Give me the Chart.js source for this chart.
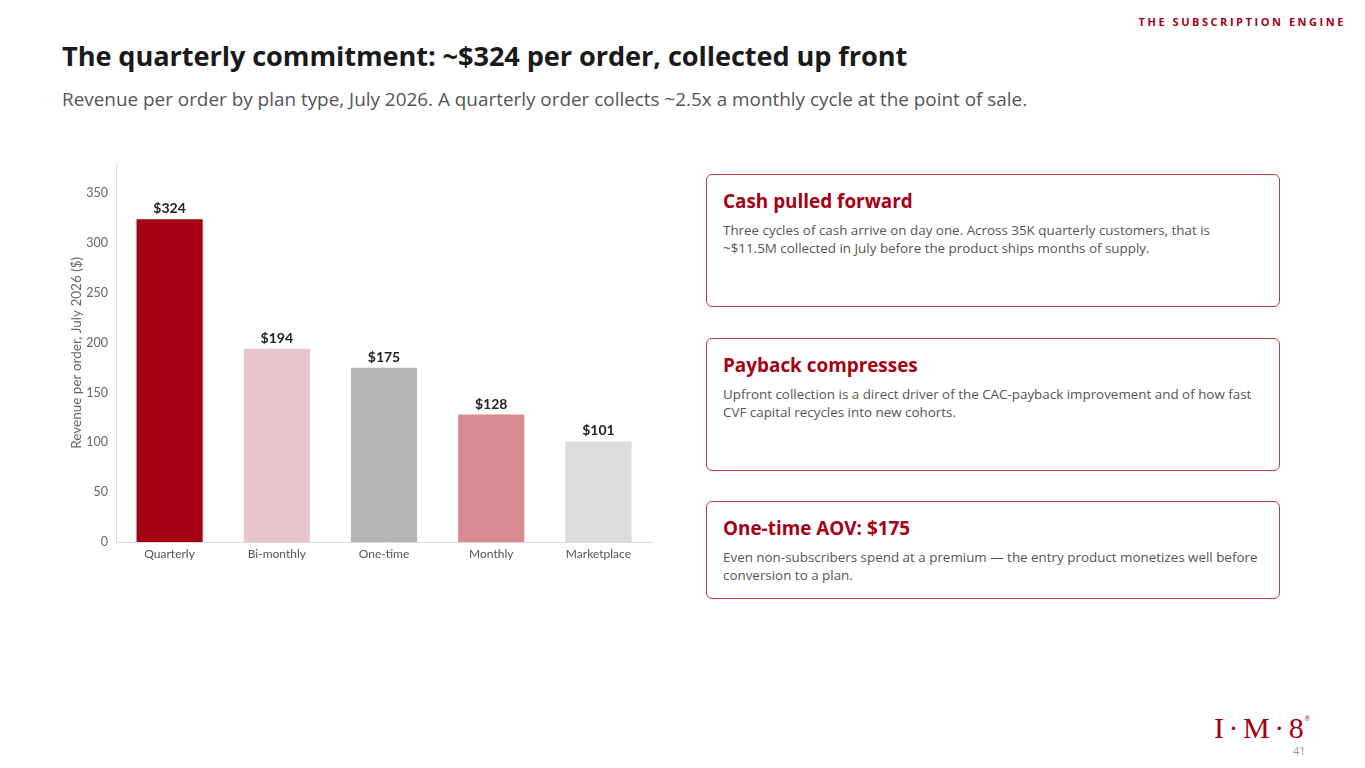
<!DOCTYPE html>
<html>
<head>
<meta charset="utf-8">
<script src="https://cdn.jsdelivr.net/npm/chart.js@4.4.1/dist/chart.umd.min.js"></script>
<style>
  html, body { margin:0; padding:0; background:#fff; }
  body { width:1365px; height:768px; position:relative; overflow:hidden; font-family:"Open Sans", "Noto Sans", sans-serif; }
  .hdr { position:absolute; right:19px; top:14px; font-size:11px; font-weight:700; letter-spacing:2.55px; color:#A50014; }
  .title { position:absolute; left:62px; top:37px; font-size:27.2px; font-weight:700; color:#1a1a1a; white-space:nowrap; letter-spacing:-0.1px; }
  .sub { position:absolute; left:62px; top:86px; font-size:18.9px; color:#555; white-space:nowrap; }
  #wrap { position:absolute; left:60px; top:148px; width:600px; height:417px; }
  .card { position:absolute; left:706px; width:574px; border:1px solid #BA3D4C; border-radius:6px; box-sizing:border-box; padding:14px 16px; }
  .card h3 { margin:0; font-size:18.9px; font-weight:700; color:#A50014; line-height:24px; }
  .card p { margin:8px 0 0 0; font-size:13.4px; color:#555; line-height:18px; }
  .logo { position:absolute; left:1214px; top:711px; font-family:"Liberation Serif", "DejaVu Serif", serif; font-size:30px; color:#A50014; letter-spacing:4.5px; white-space:nowrap; }
  .logo sup { font-size:8px; vertical-align:top; position:relative; top:3px; left:-4px; }
  .pg { position:absolute; left:1293px; top:743px; font-size:11px; color:#999; }
</style>
</head>
<body>
<div class="hdr">THE SUBSCRIPTION ENGINE</div>
<div class="title">The quarterly commitment: ~$324 per order, collected up front</div>
<div class="sub">Revenue per order by plan type, July 2026. A quarterly order collects ~2.5x a monthly cycle at the point of sale.</div>
<div id="wrap"><canvas id="c"></canvas></div>

<div class="card" style="top:174px;height:133px;">
  <h3>Cash pulled forward</h3>
  <p>Three cycles of cash arrive on day one. Across 35K quarterly customers, that is<br>~$11.5M collected in July before the product ships months of supply.</p>
</div>
<div class="card" style="top:338px;height:133px;">
  <h3>Payback compresses</h3>
  <p>Upfront collection is a direct driver of the CAC-payback improvement and of how fast<br>CVF capital recycles into new cohorts.</p>
</div>
<div class="card" style="top:501px;height:98px;">
  <h3>One-time AOV: $175</h3>
  <p>Even non-subscribers spend at a premium — the entry product monetizes well before<br>conversion to a plan.</p>
</div>

<div class="logo">I·M·8<sup>®</sup></div>
<div class="pg">41</div>

<script>
const categories = ["Quarterly", "Bi-monthly", "One-time", "Monthly", "Marketplace"];
const revenuePerOrder = [324, 194, 175, 128, 101];
const valueLabels = ["$324", "$194", "$175", "$128", "$101"];
const barColors = ["#A50014", "#E8C7CC", "#B4B4B4", "#D98991", "#DCDCDC"];
const yTicks = [0, 50, 100, 150, 200, 250, 300, 350];
const yAxisTitle = "Revenue per order, July 2026 ($)";

const valueLabelPlugin = {
  id: 'valueLabels',
  afterDatasetsDraw(chart) {
    const ctx = chart.ctx;
    const meta = chart.getDatasetMeta(0);
    ctx.save();
    ctx.font = "bold 14px Lato";
    ctx.fillStyle = "#222";
    ctx.textAlign = "center";
    ctx.textBaseline = "alphabetic";
    meta.data.forEach((bar, i) => {
      ctx.fillText(valueLabels[i], bar.x, bar.y - 6);
    });
    ctx.restore();
  }
};

new Chart(document.getElementById('c'), {
  type: 'bar',
  data: {
    labels: categories,
    datasets: [{
      data: revenuePerOrder,
      backgroundColor: barColors,
      borderWidth: 0,
      categoryPercentage: 1.0,
      barPercentage: 0.617
    }]
  },
  options: {
    responsive: true,
    maintainAspectRatio: false,
    animation: false,
    layout: { padding: { top: 8, right: 8, left: 0, bottom: 0 } },
    plugins: { legend: { display: false }, tooltip: { enabled: false } },
    scales: {
      x: {
        grid: { display: false, drawTicks: false },
        border: { display: true, color: "#dcdcdc", width: 1 },
        ticks: { color: "#555", font: { family: "Lato", size: 12 }, padding: 5 },
        afterFit(s) { s.height = 23; }
      },
      y: {
        min: 0,
        max: 380,
        afterBuildTicks(s) { s.ticks = yTicks.map(v => ({ value: v })); },
        grid: { display: false, drawTicks: false },
        border: { display: true, color: "#dcdcdc", width: 1 },
        ticks: { color: "#666", font: { family: "Lato", size: 12.5 }, padding: 8 },
        title: { display: true, text: yAxisTitle, color: "#666", font: { family: "Lato", size: 13.5 }, padding: { top: 9, bottom: 0 } },
        afterFit(s) { s.width = 56; }
      }
    }
  },
  plugins: [valueLabelPlugin]
});
</script>
</body>
</html>
